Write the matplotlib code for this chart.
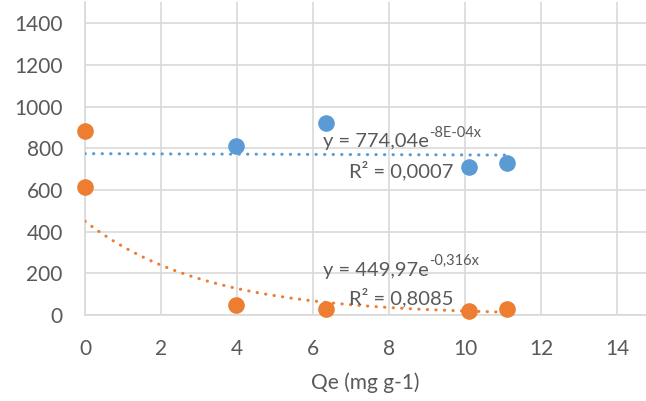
import numpy as np
import matplotlib.pyplot as plt

plt.rcParams['font.family'] = ['Lato', 'DejaVu Sans']

# données
qe_blue = [3.97, 6.34, 10.11, 11.11]
y_blue = [810, 922, 711, 727]
qe_orange = [0, 0, 3.97, 6.34, 10.11, 11.11]
y_orange = [882, 615, 48, 27, 21, 29]

# courbes de tendance exponentielles (équations affichées)
a_blue, b_blue = 774.04, -8e-4
a_orange, b_orange = 449.97, -0.316
x_trend_max = 11.11

blue = '#5B9BD5'
orange = '#ED7D31'
grey_txt = '#595959'
grid_c = '#D9D9D9'

fig = plt.figure(figsize=(6.46, 4.01), dpi=100)
ax = fig.add_axes([85 / 646, 1 - 315 / 401, 1 - 85 / 646, (315 - 2.3) / 401])

xt = np.linspace(0, x_trend_max, 200)
ax.plot(xt, a_blue * np.exp(b_blue * xt), color=blue, lw=2.2,
        linestyle=(0, (0.1, 2.7)), dash_capstyle='round', zorder=3)
ax.plot(xt, a_orange * np.exp(b_orange * xt), color=orange, lw=2.2,
        linestyle=(0, (0.1, 2.7)), dash_capstyle='round', zorder=3)

ax.scatter(qe_blue, y_blue, s=120, color=blue, zorder=4, clip_on=False)
ax.scatter(qe_orange, y_orange, s=120, color=orange, zorder=5, clip_on=False)

ax.set_xlim(0, (646 - 85) / 38)
ax.set_ylim(0, 1500)
ax.set_xticks(np.arange(0, 15, 2))
ax.set_yticks(np.arange(0, 1401, 200))
ax.grid(True, color=grid_c, lw=1.2)
ax.set_axisbelow(True)
for s in ['top', 'right']:
    ax.spines[s].set_visible(False)
for s in ['left', 'bottom']:
    ax.spines[s].set_color(grid_c)
    ax.spines[s].set_linewidth(1.2)
ax.tick_params(length=0, labelsize=15, labelcolor=grey_txt)
ax.tick_params(axis='y', pad=16)
ax.tick_params(axis='x', pad=17)
ax.set_xlabel('Qe (mg g-1)', fontsize=15, color=grey_txt, labelpad=10)


def equation(x, y, base, sup):
    t = ax.text(x, y, base, fontsize=14.5, color=grey_txt, va='center')
    ax.annotate(sup, xy=(1, 0.62), xycoords=t, fontsize=10.5,
                color=grey_txt, va='bottom', ha='left')


equation(6.26, 830, 'y = 774,04e', '-8E-04x')
ax.text(6.95, 695, 'R² = 0,0007', fontsize=14.5, color=grey_txt, va='center')
equation(6.26, 215, 'y = 449,97e', '-0,316x')
ax.text(6.95, 85, 'R² = 0,8085', fontsize=14.5, color=grey_txt, va='center')

fig.savefig('out.png', dpi=100)
